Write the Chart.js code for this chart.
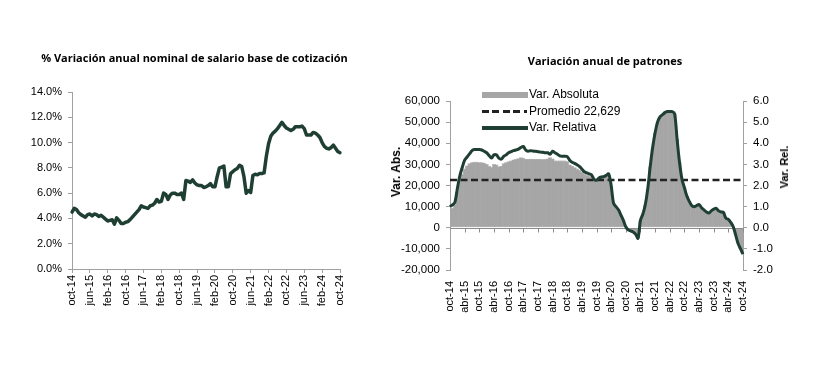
<!DOCTYPE html>
<html>
<head>
<meta charset="utf-8">
<script src="https://cdn.jsdelivr.net/npm/chart.js@4.4.1/dist/chart.umd.min.js"></script>
<style>
  body { margin: 0; background: #fff; width: 820px; height: 367px; overflow: hidden; position: relative; font-family: "Liberation Sans", Arial, sans-serif; }
  canvas { position: absolute; top: 0; }
  #c1 { left: 0; }
  #c2 { left: 370px; }
  .title { position: absolute; font-family: "Open Sans", sans-serif; font-weight: bold; font-size: 11px; line-height: 14px; text-align: center; color: #000; white-space: nowrap; }
  .axt { position: absolute; font-weight: bold; color: #000; white-space: nowrap; transform: translate(-50%, -50%) rotate(-90deg); }
  .lgtxt { position: absolute; left: 529px; font-size: 12px; line-height: 14px; color: #000; white-space: nowrap; }
  .sw { position: absolute; left: 482px; width: 46px; }
</style>
</head>
<body>
<canvas id="c1" width="400" height="367"></canvas>
<canvas id="c2" width="450" height="367"></canvas>

<div class="title" style="left:0; width:389px; top:51px;">% Variación anual nominal de salario base de cotización</div>
<div class="title" style="left:455px; width:300px; top:54px;">Variación anual de patrones</div>

<div class="axt" style="left:396px; top:172px; font-size:12px;">Var. Abs.</div>
<div class="axt" style="left:784px; top:167px; font-size:11px;">Var. Rel.</div>

<div class="sw" style="top:92px; height:6px; background:#a6a6a6;"></div>
<div class="sw" style="top:110px; height:3px; width:45px; background:repeating-linear-gradient(90deg,#222 0 7px,transparent 7px 10.5px);"></div>
<div class="sw" style="top:126px; height:3.5px; background:#1f3f33;"></div>
<div class="lgtxt" style="top:87px;">Var. Absoluta</div>
<div class="lgtxt" style="top:104px;">Promedio 22,629</div>
<div class="lgtxt" style="top:120px;">Var. Relativa</div>

<script>
// meses oct-14 .. oct-24
const meses = ['ene','feb','mar','abr','may','jun','jul','ago','sep','oct','nov','dic'];
const etiquetas = [];
for (let i = 0; i < 121; i++) {
  const m = (9 + i) % 12;
  const a = 14 + Math.floor((9 + i) / 12);
  etiquetas.push(meses[m] + '-' + a);
}

// % variacion anual nominal salario base de cotizacion
const salario = [
  4.5,4.8,4.7,4.45,4.3,4.2,4.1,4.3,4.35,4.2,
  4.35,4.3,4.15,4.25,4.1,3.95,3.8,3.85,3.9,3.55,
  4.05,3.85,3.6,3.6,3.7,3.75,3.9,4.1,4.3,4.5,
  4.7,5.0,4.9,4.85,4.8,5.0,5.05,5.2,5.5,5.3,
  5.35,6.0,5.9,5.5,5.85,6.0,6.0,5.9,5.9,6.0,
  5.5,7.0,6.95,6.85,7.05,6.8,6.65,6.6,6.6,6.45,
  6.5,6.6,6.75,6.5,6.5,7.3,8.0,8.05,8.15,6.5,
  6.5,7.55,7.7,7.85,7.95,8.2,8.1,7.3,6.0,6.2,
  6.05,7.4,7.5,7.45,7.55,7.55,7.6,8.9,9.9,10.5,
  10.75,10.9,11.1,11.35,11.6,11.35,11.15,11.05,10.95,11.05,
  11.25,11.25,11.25,11.3,11.1,10.6,10.6,10.6,10.8,10.75,
  10.6,10.4,10.0,9.7,9.55,9.5,9.6,9.8,9.55,9.3,
  9.2
];

// variacion absoluta de patrones
const varAbsoluta = [
  8700,9500,11000,17000,22000,25500,28000,29500,30500,31000,
  31300,31200,31000,31000,30800,30200,29200,28800,30200,30000,
  29000,29200,30500,31000,31500,31800,32300,32600,32900,33400,
  33000,32600,32600,32700,32600,32600,32600,32500,32400,32600,
  32800,33400,32800,31800,31800,31800,31800,31800,31500,30000,
  29200,28600,28000,27300,26500,25500,25000,24600,24400,23000,
  22500,23500,24000,24200,24800,25000,20000,11500,10000,8500,
  6000,3500,500,-1000,-1500,-2000,-3000,-5000,3500,6500,
  11000,18500,29000,38000,45000,50000,52500,53500,54500,55000,
  55000,55000,54000,42000,31000,23000,19000,15000,12500,10500,
  10000,10500,11000,9500,8500,7500,7000,8000,8800,9200,
  8000,7500,7200,4500,4000,2500,500,-3500,-7500,-10000,
  -12500
];

// variacion relativa (%)
const varRelativa = [
  1.0,1.08,1.2,1.85,2.45,2.85,3.2,3.35,3.5,3.65,
  3.7,3.7,3.7,3.68,3.62,3.55,3.42,3.3,3.45,3.45,
  3.3,3.25,3.38,3.45,3.55,3.6,3.65,3.68,3.72,3.8,
  3.85,3.68,3.62,3.65,3.63,3.62,3.6,3.58,3.57,3.55,
  3.55,3.48,3.62,3.55,3.48,3.4,3.38,3.38,3.37,3.2,
  3.1,3.05,2.98,2.9,2.78,2.65,2.6,2.55,2.5,2.3,
  2.25,2.35,2.4,2.42,2.48,2.55,2.0,1.15,1.0,0.85,
  0.6,0.35,0.05,-0.1,-0.15,-0.2,-0.3,-0.5,0.35,0.65,
  1.1,1.85,2.9,3.8,4.5,5.0,5.25,5.35,5.45,5.5,
  5.5,5.5,5.4,4.2,3.1,2.3,1.9,1.5,1.25,1.05,
  1.0,1.05,1.1,0.95,0.85,0.75,0.7,0.8,0.88,0.92,
  0.8,0.75,0.72,0.45,0.4,0.25,0.05,-0.35,-0.75,-1.0,
  -1.25
];

const promedio = 22629;
const lineaPromedio = etiquetas.map(() => promedio);

const verde = '#1f3f33';
const gris = '#a6a6a6';
const ejeColor = '#a0a0a0';
const fuente = { family: '"Liberation Sans", Arial, sans-serif', size: 11 };

Chart.defaults.color = '#000';
Chart.defaults.animation = false;

// ---- grafica 1: salario ----
new Chart(document.getElementById('c1'), {
  type: 'line',
  data: {
    labels: etiquetas,
    datasets: [{
      data: salario,
      borderColor: verde,
      borderWidth: 3.5,
      pointRadius: 0,
      tension: 0,
      borderJoinStyle: 'round',
      borderCapStyle: 'round'
    }]
  },
  options: {
    responsive: false,
    layout: { padding: { top: 92, right: 60, bottom: 0, left: 0 } },
    plugins: { legend: { display: false }, tooltip: { enabled: false } },
    scales: {
      x: {
        offset: false,
        afterFit: (s) => { s.height = 98; },
        grid: { drawOnChartArea: false, drawTicks: true, tickLength: 4, color: ejeColor },
        border: { display: true, color: ejeColor },
        ticks: {
          autoSkip: false, minRotation: 90, maxRotation: 90, padding: 2, font: fuente,
          callback: (v, i) => (i % 8 === 0 ? etiquetas[i] : null)
        }
      },
      y: {
        min: 0, max: 14,
        afterFit: (s) => { s.width = 72; },
        grid: { drawOnChartArea: false, drawTicks: true, tickLength: 4, color: ejeColor },
        border: { display: true, color: ejeColor },
        ticks: { stepSize: 2, padding: 6, font: fuente, callback: (v) => v.toFixed(1) + '%' }
      }
    }
  }
});

// linea de cero con marcas
const lineaCero = {
  id: 'lineaCero',
  afterDatasetDraw(chart, args) {
    if (args.index !== 2) return;
    const { ctx, chartArea, scales } = chart;
    const y0 = Math.round(scales.y.getPixelForValue(0)) + 0.5;
    ctx.save();
    ctx.strokeStyle = '#8c8c8c';
    ctx.lineWidth = 1;
    ctx.beginPath();
    ctx.moveTo(chartArea.left, y0);
    ctx.lineTo(chartArea.right, y0);
    for (let i = 6; i < etiquetas.length; i += 6) {
      const x = Math.round(scales.x.getPixelForValue(i)) + 0.5;
      ctx.moveTo(x, y0);
      ctx.lineTo(x, y0 + 4);
    }
    ctx.stroke();
    ctx.restore();
  }
};

// ---- grafica 2: patrones ----
new Chart(document.getElementById('c2'), {
  type: 'bar',
  data: {
    labels: etiquetas,
    datasets: [
      {
        type: 'line', label: 'Var. Relativa', data: varRelativa, yAxisID: 'y1',
        borderColor: verde, borderWidth: 3, pointRadius: 0, tension: 0.3,
        borderJoinStyle: 'round', order: 0
      },
      {
        type: 'line', label: 'Promedio 22,629', data: lineaPromedio, yAxisID: 'y',
        borderColor: '#222', borderWidth: 2.5, borderDash: [7, 3.5], pointRadius: 0, order: 1
      },
      {
        type: 'bar', label: 'Var. Absoluta', data: varAbsoluta, yAxisID: 'y',
        backgroundColor: gris, borderColor: gris, borderWidth: 0.6, borderSkipped: false,
        barPercentage: 1.7, categoryPercentage: 1, order: 2
      }
    ]
  },
  options: {
    responsive: false,
    layout: { padding: { top: 101, right: 32, bottom: 0, left: 0 } },
    plugins: { legend: { display: false }, tooltip: { enabled: false } },
    scales: {
      x: {
        offset: false,
        afterFit: (s) => { s.height = 97; },
        grid: { display: false },
        border: { display: false },
        ticks: {
          autoSkip: false, minRotation: 90, maxRotation: 90, padding: 3, font: fuente,
          callback: (v, i) => (i % 6 === 0 ? etiquetas[i] : null)
        }
      },
      y: {
        position: 'left', min: -20000, max: 60000,
        afterFit: (s) => { s.width = 80; },
        grid: { drawOnChartArea: false, drawTicks: true, tickLength: 4, color: ejeColor },
        border: { display: true, color: ejeColor },
        ticks: { stepSize: 10000, padding: 6, font: { ...fuente, size: 11.5 },
          callback: (v) => v.toLocaleString('en-US') }
      },
      y1: {
        position: 'right', min: -2, max: 6,
        afterFit: (s) => { s.width = 45; },
        grid: { drawOnChartArea: false, drawTicks: true, tickLength: 4, color: ejeColor },
        border: { display: true, color: ejeColor },
        ticks: { stepSize: 1, padding: 6, font: { ...fuente, size: 11.5 },
          callback: (v) => v.toFixed(1) }
      }
    }
  },
  plugins: [lineaCero]
});
</script>
</body>
</html>
